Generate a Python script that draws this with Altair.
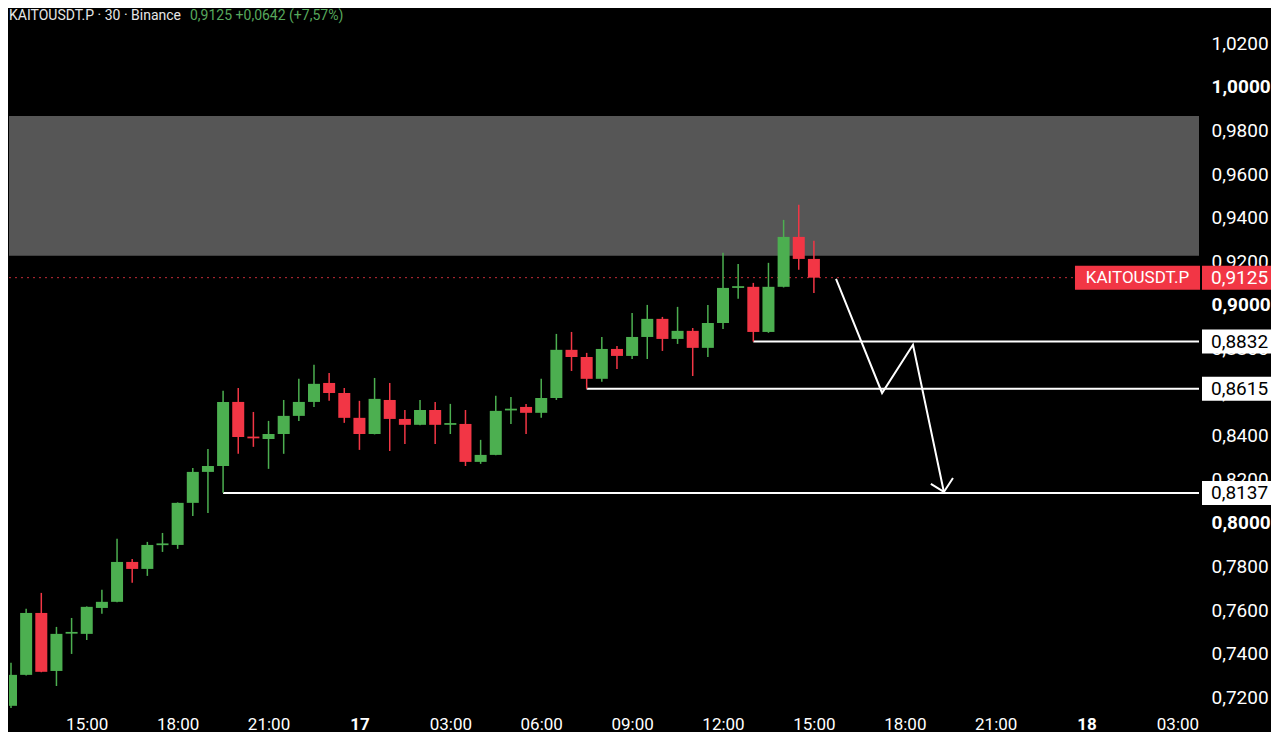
import altair as alt
import pandas as pd

symbol = "KAITOUSDT.P"
header_left = "KAITOUSDT.P · 30 · Binance"
header_right = "0,9125  +0,0642 (+7,57%)"

# 30 min candles, first one at 12:30 on the 16th (hours counted from 16th 00:00)
first_hour = 12.5
step_hours = 0.5

opens = [0.7161, 0.7303, 0.7587, 0.7321, 0.7492, 0.7491, 0.7610, 0.7638, 0.7821, 0.7789,
         0.7898, 0.7899, 0.8092, 0.8234, 0.8261, 0.8555, 0.8396, 0.8385, 0.8408, 0.8491,
         0.8555, 0.8642, 0.8596, 0.8482, 0.8408, 0.8564, 0.8477, 0.8450, 0.8518, 0.8450,
         0.8454, 0.8280, 0.8312, 0.8516, 0.8532, 0.8505, 0.8573, 0.8794, 0.8761, 0.8661,
         0.8798, 0.8766, 0.8853, 0.8936, 0.8844, 0.8881, 0.8803, 0.8917, 0.9078, 0.9083,
         0.8876, 0.9083, 0.9312, 0.9211]
highs = [0.7358, 0.7606, 0.7679, 0.7523, 0.7564, 0.7617, 0.7693, 0.7927, 0.7835, 0.7913,
         0.7954, 0.8094, 0.8252, 0.8339, 0.8606, 0.8619, 0.8509, 0.8468, 0.8564, 0.8661,
         0.8725, 0.8688, 0.8619, 0.8560, 0.8665, 0.8642, 0.8518, 0.8564, 0.8555, 0.8546,
         0.8518, 0.8381, 0.8583, 0.8578, 0.8546, 0.8661, 0.8867, 0.8876, 0.8780, 0.8853,
         0.8812, 0.8963, 0.9000, 0.8945, 0.8991, 0.8894, 0.9000, 0.9239, 0.9188, 0.9101,
         0.9193, 0.9390, 0.9459, 0.9294]
lows = [0.7130, 0.7300, 0.7315, 0.7252, 0.7399, 0.7463, 0.7583, 0.7636, 0.7725, 0.7757,
        0.7867, 0.7881, 0.8032, 0.8046, 0.8138, 0.8317, 0.8349, 0.8248, 0.8317, 0.8468,
        0.8532, 0.8560, 0.8459, 0.8335, 0.8406, 0.8330, 0.8362, 0.8448, 0.8362, 0.8408,
        0.8261, 0.8271, 0.8310, 0.8454, 0.8408, 0.8482, 0.8564, 0.8697, 0.8615, 0.8647,
        0.8706, 0.8752, 0.8752, 0.8789, 0.8821, 0.8674, 0.8761, 0.8890, 0.9028, 0.8832,
        0.8872, 0.9080, 0.9161, 0.9055]
closes = [0.7303, 0.7587, 0.7317, 0.7491, 0.7500, 0.7615, 0.7638, 0.7821, 0.7789, 0.7899,
          0.7906, 0.8092, 0.8234, 0.8261, 0.8555, 0.8394, 0.8388, 0.8408, 0.8491, 0.8555,
          0.8638, 0.8596, 0.8482, 0.8408, 0.8569, 0.8477, 0.8450, 0.8518, 0.8450, 0.8458,
          0.8280, 0.8312, 0.8514, 0.8524, 0.8505, 0.8573, 0.8794, 0.8761, 0.8661, 0.8798,
          0.8766, 0.8853, 0.8936, 0.8844, 0.8881, 0.8803, 0.8917, 0.9078, 0.9086, 0.8876,
          0.9083, 0.9312, 0.9211, 0.9125]

last_price = 0.9125
zone_low, zone_high = 0.9225, 0.9867

levels = [0.8832, 0.8615, 0.8137]
level_start_candle = [49, 38, 14]

# drawn projection path and arrow head (hours, price)
path_hours = [39.73, 41.25, 42.27, 43.29]
path_prices = [0.9119, 0.8596, 0.8817, 0.8142]
head_hours = [42.86, 43.29, 43.59]
head_prices = [0.8179, 0.8142, 0.8206]

x_ticks = [15, 18, 21, 24, 27, 30, 33, 36, 39, 42, 45, 48, 51]
y_ticks = [0.72, 0.74, 0.76, 0.78, 0.80, 0.82, 0.84, 0.86, 0.88, 0.90,
           0.92, 0.94, 0.96, 0.98, 1.00, 1.02]
x_domain = [12.434, 51.71]
y_domain = [0.7151, 1.0362]

GREEN = "#4caf50"
RED = "#f23645"
W, H = 1190, 700
FONT = "Roboto"

candles = pd.DataFrame({"open": opens, "high": highs, "low": lows, "close": closes})
candles["t"] = [first_hour + step_hours * i for i in range(len(candles))]
candles["dir"] = ["up" if c >= o else "down" for o, c in zip(opens, closes)]

x_axis = alt.Axis(
    values=x_ticks, grid=False, ticks=False, domain=False, zindex=0,
    labelColor="white", labelFont=FONT, labelFontSize=17, labelPadding=8,
    labelOverlap=False, labelFlush=False,
    labelFontWeight={"condition": {"test": "datum.value % 24 == 0", "value": "bold"},
                     "value": "normal"},
    labelExpr="datum.value % 24 == 0 ? format(16 + datum.value / 24, 'd') : "
              "(datum.value % 24 < 10 ? '0' : '') + format(datum.value % 24, 'd') + ':00'")
y_axis = alt.Axis(
    values=y_ticks, orient="right", grid=False, ticks=False, domain=False, zindex=0,
    labelColor="white", labelFont=FONT, labelFontSize=19, labelPadding=12,
    labelAlign="left", labelOverlap=False, labelFlush=False,
    labelFontWeight={"condition": {"test": "abs(datum.value * 10 - round(datum.value * 10)) < 0.001",
                                   "value": "bold"}, "value": "normal"},
    labelExpr="replace(format(datum.value, '.4f'), '.', ',')")
x_scale = alt.Scale(domain=x_domain, nice=False, zero=False, padding=0)
y_scale = alt.Scale(domain=y_domain, nice=False, zero=False, padding=0)


def X(field):
    return alt.X(field, type="quantitative", scale=x_scale, axis=x_axis, title=None)


def Y(field):
    return alt.Y(field, type="quantitative", scale=y_scale, axis=y_axis, title=None)


candle_color = alt.Color("dir:N", scale=alt.Scale(domain=["up", "down"], range=[GREEN, RED]),
                         legend=None)

zone = alt.Chart(pd.DataFrame({"x0": [x_domain[0]], "x1": [x_domain[1]],
                               "lo": [zone_low], "hi": [zone_high]})).mark_rect(
    color="#565656").encode(x=X("x0"), x2="x1", y=Y("lo"), y2="hi")

price_df = pd.DataFrame({"x0": [x_domain[0]], "x1": [x_domain[1]], "p": [last_price],
                         "label": [f"{last_price:.4f}".replace(".", ",")], "sym": [symbol]})
price_line = alt.Chart(price_df).mark_rule(
    color=RED, strokeDash=[2, 4], strokeWidth=1, opacity=0.8).encode(
    x=X("x0"), x2="x1", y=Y("p"))

level_df = pd.DataFrame({
    "level": levels,
    "start": [first_hour + step_hours * i for i in level_start_candle],
    "end": [x_domain[1]] * len(levels),
    "label": [f"{v:.4f}".replace(".", ",") for v in levels],
})
level_lines = alt.Chart(level_df).mark_rule(color="white", strokeWidth=2).encode(
    x=X("start"), x2="end", y=Y("level"))

wicks = alt.Chart(candles).mark_rule(strokeWidth=1.5, clip=True).encode(
    x=X("t"), y=Y("low"), y2="high", color=candle_color)
bodies = alt.Chart(candles).mark_bar(size=12, clip=True).encode(
    x=X("t"), y=Y("open"), y2="close", color=candle_color)

path_df = pd.DataFrame({
    "h": path_hours + head_hours,
    "p": path_prices + head_prices,
    "seg": ["path"] * len(path_hours) + ["head"] * len(head_hours),
    "ord": list(range(len(path_hours))) + list(range(len(head_hours))),
})
arrow = alt.Chart(path_df).mark_line(color="white", strokeWidth=2, strokeJoin="miter").encode(
    x=X("h"), y=Y("p"), detail="seg", order="ord")

box_shape = "M-2.875,-1H2.875V1H-2.875Z"
level_boxes = alt.Chart(level_df).mark_point(
    shape=box_shape, size=576, filled=True, color="white", opacity=1).encode(
    x=alt.value(1227.5), y=Y("level"))
level_text = alt.Chart(level_df).mark_text(
    align="left", baseline="middle", font=FONT, fontSize=19, color="black").encode(
    x=alt.value(1202), y=Y("level"), text="label")

price_box = alt.Chart(price_df).mark_point(
    shape=box_shape, size=576, filled=True, color=RED, opacity=1).encode(
    x=alt.value(1227.5), y=Y("p"))
price_text = alt.Chart(price_df).mark_text(
    align="left", baseline="middle", font=FONT, fontSize=19, color="white").encode(
    x=alt.value(1202), y=Y("p"), text="label")
sym_box = alt.Chart(price_df).mark_point(
    shape="M-5.21,-1H5.21V1H-5.21Z", size=576, filled=True, color=RED, opacity=1).encode(
    x=alt.value(1128.5), y=Y("p"))
sym_text = alt.Chart(price_df).mark_text(
    align="center", baseline="middle", font=FONT, fontSize=17, color="white").encode(
    x=alt.value(1128.5), y=Y("p"), text="sym")

header_df = pd.DataFrame({"left": [header_left], "right": [header_right]})
head_left = alt.Chart(header_df).mark_text(
    align="left", baseline="middle", font=FONT, fontSize=14, color="#e6e6e6").encode(
    x=alt.value(0), y=alt.value(8), text="left")
head_right = alt.Chart(header_df).mark_text(
    align="left", baseline="middle", font=FONT, fontSize=14, color="#57a85c").encode(
    x=alt.value(181), y=alt.value(8), text="right")

chart = alt.layer(
    zone, price_line, level_lines, wicks, bodies, arrow,
    level_boxes, level_text, price_box, price_text, sym_box, sym_text,
    head_left, head_right,
).properties(width=W, height=H, padding=0, background="black").configure_view(
    stroke=None, fill="black")

chart.save("out.html", embed_options={"renderer": "svg", "actions": False})
